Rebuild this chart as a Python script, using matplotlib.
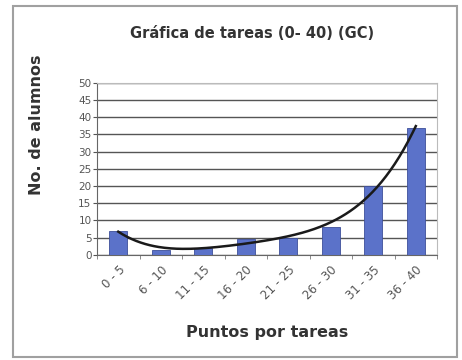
import matplotlib.pyplot as plt
import numpy as np
from matplotlib.patches import Rectangle

categorias = ["0 - 5", "6 - 10", "11 - 15", "16 - 20", "21 - 25", "26 - 30", "31 - 35", "36 - 40"]
alumnos = [7, 1.5, 2, 4.5, 5, 8, 20, 37]
y_ticks = [0, 5, 10, 15, 20, 25, 30, 35, 40, 45, 50]

fig = plt.figure(figsize=(4.62, 3.6), dpi=100)
fig.patches.append(Rectangle((0.028, 0.008), 0.962, 0.975, transform=fig.transFigure,
                             fill=False, edgecolor='#a0a0a0', linewidth=1.5))
ax = fig.add_axes([0.21, 0.292, 0.736, 0.478])

x = np.arange(len(categorias))
ax.bar(x, alumnos, width=0.42, color='#5b72c9', edgecolor='#3e4f9a', linewidth=0.6, zorder=3)

# linea de tendencia polinomica
coef = np.polyfit(x, alumnos, 4)
xs = np.linspace(0, len(categorias) - 1, 200)
ax.plot(xs, np.polyval(coef, xs), color='#1a1a1a', linewidth=1.8, zorder=4)

ax.set_xlim(-0.5, len(categorias) - 0.5)
ax.set_ylim(0, 50)
ax.set_yticks(y_ticks)
ax.yaxis.grid(True, color='#555555', linewidth=1.0)
ax.set_axisbelow(True)
ax.tick_params(axis='y', labelsize=7.5, colors='#555555', length=3, pad=1)
ax.set_xticks(x)
ax.set_xticklabels(categorias, rotation=45, ha='right', rotation_mode='anchor', fontsize=8.5, color='#555555')
ax.set_xticks(np.arange(-0.5, len(categorias)), minor=True)
ax.tick_params(axis='x', which='major', length=0, pad=6)
ax.tick_params(axis='x', which='minor', length=3, color='#777777')
for s in ['top', 'right']:
    ax.spines[s].set_color('#bbbbbb')
for s in ['left', 'bottom']:
    ax.spines[s].set_color('#666666')

ax.set_title("Gráfica de tareas (0- 40) (GC)", fontsize=10.5, fontweight='bold', color='#333333',
             pad=32, x=0.456)
ax.set_ylabel("No. de alumnos", fontsize=11.5, fontweight='bold', color='#333333')
ax.yaxis.set_label_coords(-0.155, 0.755)
ax.set_xlabel("Puntos por tareas", fontsize=11.5, fontweight='bold', color='#333333')
ax.xaxis.set_label_coords(0.5, -0.41)

fig.savefig("out.png", dpi=100)
